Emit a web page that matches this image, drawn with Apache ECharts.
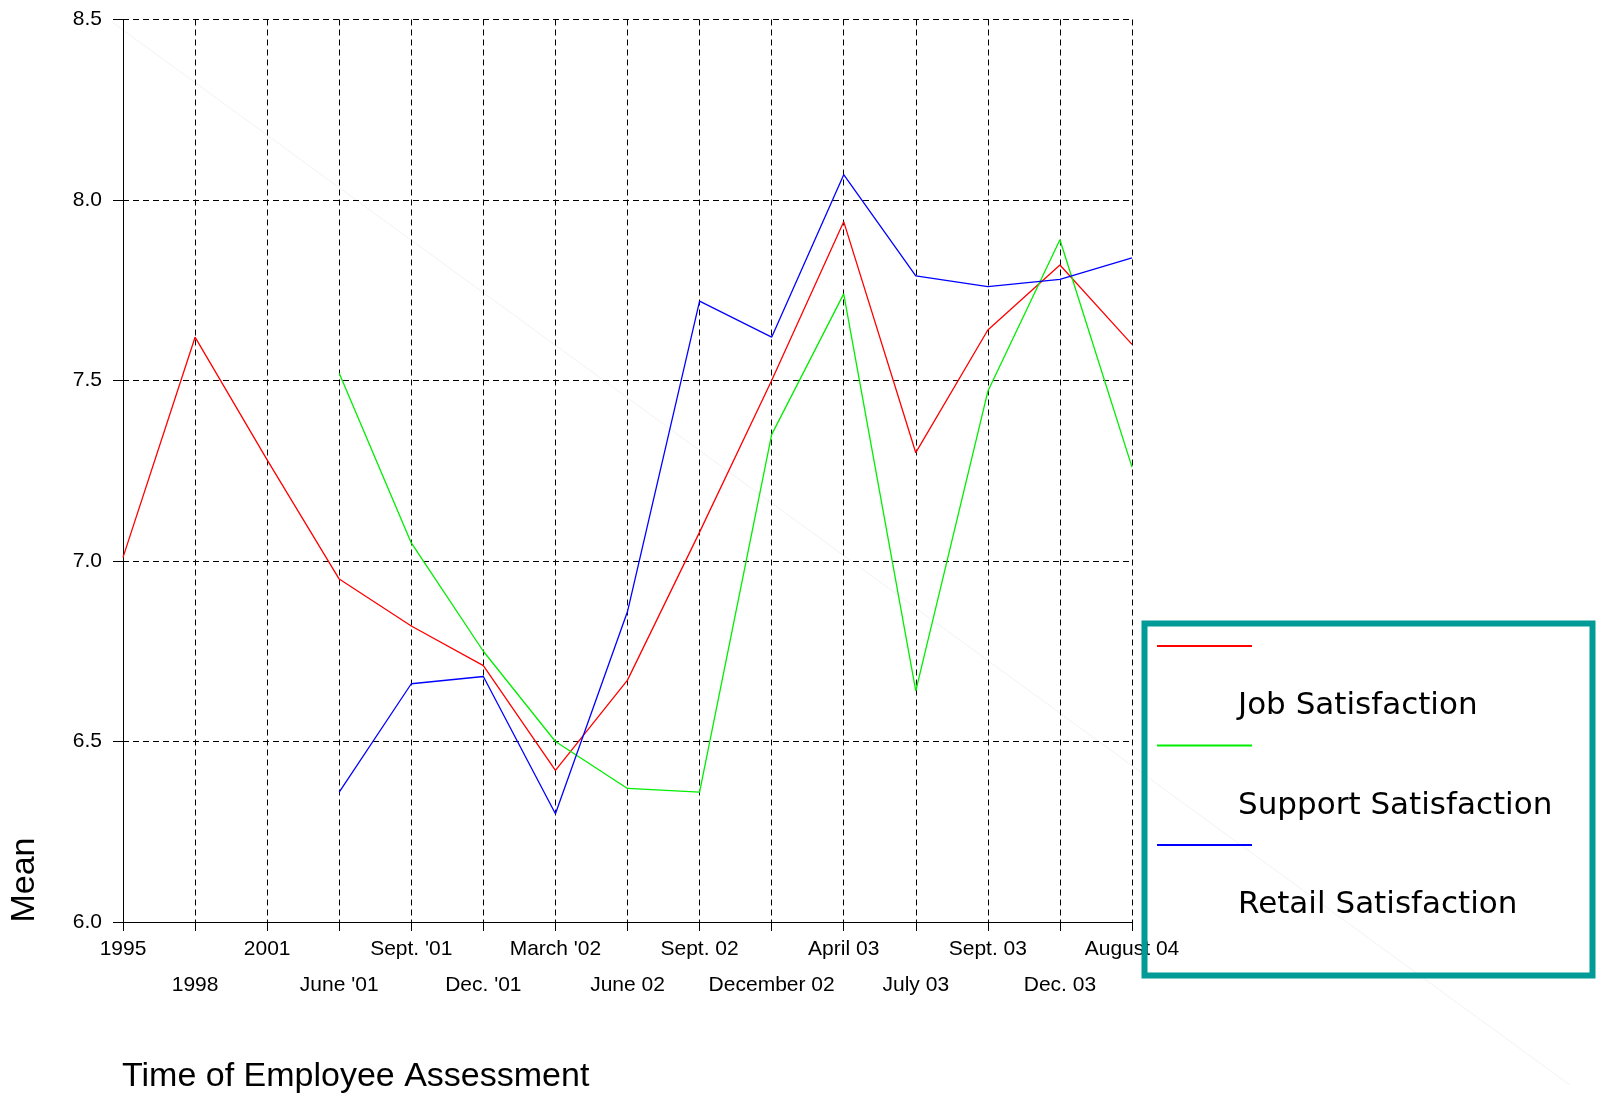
<!DOCTYPE html>
<html>
<head>
<meta charset="utf-8">
<script src="https://cdn.jsdelivr.net/npm/echarts@6/dist/echarts.min.js"></script>
<style>
html, body { margin: 0; padding: 0; background: #fff; }
#main { width: 1598px; height: 1095px; }
</style>
</head>
<body>
<div id="main"></div>
<script>
// times of the assessments (x axis)
var periods = ["1995", "1998", "2001", "June '01", "Sept. '01", "Dec. '01", "March '02", "June 02",
	"Sept. 02", "December 02", "April 03", "July 03", "Sept. 03", "Dec. 03", "August 04"];

// mean scores, '-' = not measured yet
var jobSat = [7.01, 7.62, 7.28, 6.95, 6.82, 6.71, 6.42, 6.67, 7.08, 7.50, 7.94, 7.30, 7.64, 7.82, 7.60];
var supportSat = ['-', '-', '-', 7.52, 7.05, 6.75, 6.50, 6.37, 6.36, 7.35, 7.74, 6.64, 7.47, 7.89, 7.26];
var retailSat = ['-', '-', '-', 6.36, 6.66, 6.68, 6.30, 6.86, 7.72, 7.62, 8.07, 7.79, 7.76, 7.78, 7.84];

var seriesNames = ["Job Satisfaction", "Support Satisfaction", "Retail Satisfaction"];
var seriesColors = ["#ff0000", "#00ee00", "#0000ff"];
var yTicks = { min: 6, max: 8.5, step: 0.5 };

var dash = [6, 4];

function makeLine(i, data) {
	return {
		name: seriesNames[i],
		type: 'line',
		data: data,
		showSymbol: false,
		symbol: 'none',
		color: seriesColors[i],
		lineStyle: { color: seriesColors[i], width: 1.3 },
		itemStyle: { color: seriesColors[i] }
	};
}

var option = {
	animation: false,
	backgroundColor: '#fff',
	grid: { left: 123, right: 466, top: 19.5, bottom: 173 },
	xAxis: {
		type: 'category',
		data: periods,
		boundaryGap: false,
		axisLine: { lineStyle: { color: '#000', width: 1 } },
		axisTick: { show: true, interval: 0, length: 9, lineStyle: { color: '#000' } },
		axisLabel: {
			interval: 0,
			margin: 9,
			color: '#000',
			fontFamily: 'Liberation Sans',
			fontSize: 21,
			lineHeight: 36,
			hideOverlap: false,
			formatter: function (v, idx) {
				return idx % 2 ? '\n' + v : v;
			}
		},
		splitLine: { show: true, interval: 0, lineStyle: { color: '#000', type: dash, width: 1 } }
	},
	yAxis: {
		type: 'value',
		min: yTicks.min,
		max: yTicks.max,
		interval: yTicks.step,
		axisLine: { show: true, lineStyle: { color: '#000', width: 1 } },
		axisTick: { show: true, length: 10, lineStyle: { color: '#000' } },
		axisLabel: {
			margin: 21,
			color: '#000',
			fontFamily: 'Liberation Sans',
			fontSize: 21,
			formatter: function (v) { return v.toFixed(1); }
		},
		splitLine: { show: true, lineStyle: { color: '#000', type: dash, width: 1 } }
	},
	legend: {
		orient: 'vertical',
		left: 1157,
		top: 645,
		padding: 0,
		itemWidth: 95,
		itemHeight: 2,
		itemGap: 23,
		icon: 'rect',
		selectedMode: false,
		data: seriesNames,
		formatter: function (name) { return '{t|' + name + '}'; },
		textStyle: {
			rich: {
				t: {
					fontFamily: 'DejaVu Sans',
					fontSize: 31,
					color: '#000',
					padding: [120, 0, 0, -19]
				}
			}
		}
	},
	graphic: [
		{
			// faint diagonal streak across the page
			type: 'line', z: -5, silent: true,
			shape: { x1: 112, y1: 22, x2: 1570, y2: 1085 },
			style: { stroke: '#f3f3f3', lineWidth: 1 }
		},
		{
			type: 'rect', z: 10, silent: true,
			shape: { x: 1144.5, y: 623.5, width: 448, height: 352 },
			style: { fill: 'none', stroke: '#009a97', lineWidth: 6 }
		},
		{
			type: 'text', silent: true,
			x: 25, y: 880, rotation: Math.PI / 2,
			style: {
				text: 'Mean', fill: '#000', fontFamily: 'Liberation Sans', fontSize: 34,
				align: 'center', verticalAlign: 'middle'
			}
		},
		{
			type: 'text', silent: true,
			x: 122, y: 1077,
			style: {
				text: 'Time of Employee Assessment', fill: '#000', fontFamily: 'Liberation Sans', fontSize: 34,
				align: 'left', verticalAlign: 'middle'
			}
		}
	],
	series: [
		makeLine(0, jobSat),
		makeLine(1, supportSat),
		makeLine(2, retailSat)
	]
};

var myChart = echarts.init(document.getElementById('main'));
myChart.setOption(option);
</script>
</body>
</html>
